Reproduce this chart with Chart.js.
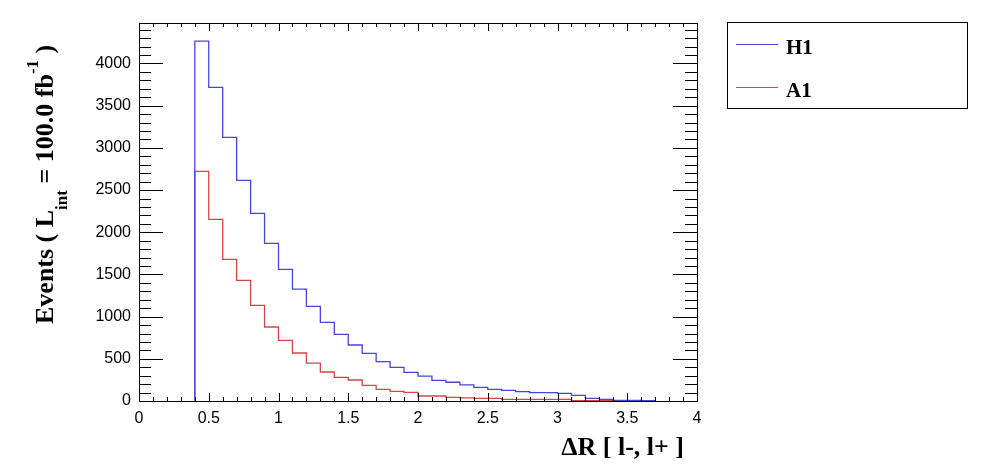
<!DOCTYPE html>
<html>
<head>
<meta charset="utf-8">
<script src="https://cdn.jsdelivr.net/npm/chart.js@4.4.1/dist/chart.umd.min.js"></script>
<style>
  html, body { margin: 0; padding: 0; background: #fff; }
  #wrap { width: 996px; height: 472px; }
</style>
</head>
<body>
<div id="wrap"><canvas id="histChart" width="996" height="472"></canvas></div>
<script>
// bin low edges (width 0.1), last entry is the upper edge of the last bin
const binEdges = [0.4, 0.5, 0.6, 0.7, 0.8, 0.9, 1.0, 1.1, 1.2, 1.3, 1.4, 1.5, 1.6, 1.7,
  1.8, 1.9, 2.0, 2.1, 2.2, 2.3, 2.4, 2.5, 2.6, 2.7, 2.8, 2.9, 3.0, 3.1, 3.2, 3.3,
  3.4, 3.5, 3.6, 3.7];

const h1Values = [4266, 3717, 3125, 2615, 2224, 1868, 1560, 1327, 1122, 932, 790, 664,
  565, 466, 399, 340, 294, 245, 222, 190, 162, 138, 126, 111, 100, 100, 91, 67, 32,
  20, 8, 6, 5];

const a1Values = [2722, 2153, 1679, 1430, 1134, 877, 719, 569, 450, 344, 281, 249,
  186, 138, 115, 103, 59, 59, 43, 36, 32, 32, 20, 20, 20, 20, 20, 5, 5, 5];

const seriesLabels = ["H1", "A1"];
const seriesColors = ["#4646dc", "#d44646"];

const xTicks = [0, 0.5, 1, 1.5, 2, 2.5, 3, 3.5, 4];
const yTicks = [0, 500, 1000, 1500, 2000, 2500, 3000, 3500, 4000];

// turn bin contents into step points (rise at first edge, drop at last edge)
function histPoints(values) {
  const pts = [{ x: binEdges[0], y: 0 }];
  values.forEach((v, i) => pts.push({ x: binEdges[i], y: v }));
  const end = binEdges[values.length];
  pts.push({ x: end, y: values[values.length - 1] });
  pts.push({ x: end, y: 0 });
  return pts;
}

const serif = "'Liberation Serif', 'Times New Roman', serif";
const sans = "'Liberation Sans', Arial, sans-serif";

// frame, inside ticks, axis titles and boxed legend (ROOT look)
const rootFrame = {
  id: "rootFrame",
  beforeDraw(chart) {
    const ctx = chart.ctx;
    ctx.save();
    ctx.fillStyle = "#fff";
    ctx.fillRect(0, 0, chart.width, chart.height);
    ctx.restore();
  },
  afterDraw(chart) {
    const ctx = chart.ctx;
    const a = chart.chartArea;
    const xs = chart.scales.x;
    const ys = chart.scales.y;
    ctx.save();
    ctx.strokeStyle = "#000";
    ctx.lineWidth = 1;
    ctx.strokeRect(a.left + 0.5, a.top + 0.5, a.right - a.left, a.bottom - a.top);

    ctx.beginPath();
    // y ticks: minor every 100, major on the labelled values
    for (let v = 0; v <= ys.max; v += 100) {
      const py = Math.round(ys.getPixelForValue(v)) + 0.5;
      const len = yTicks.includes(v) ? 24 : 12;
      ctx.moveTo(a.left, py); ctx.lineTo(a.left + len, py);
      ctx.moveTo(a.right, py); ctx.lineTo(a.right - len, py);
    }
    // x ticks: minor every 0.1, major on the labelled values
    for (let i = 0; i <= 40; i++) {
      const v = i / 10;
      const px = Math.round(xs.getPixelForValue(v)) + 0.5;
      const len = xTicks.includes(v) ? 8 : 4;
      ctx.moveTo(px, a.bottom); ctx.lineTo(px, a.bottom - len);
      ctx.moveTo(px, a.top); ctx.lineTo(px, a.top + len);
    }
    ctx.stroke();

    // x title
    ctx.fillStyle = "#000";
    ctx.font = "bold 26px " + serif;
    ctx.textAlign = "right";
    ctx.textBaseline = "alphabetic";
    ctx.fillText("\u0394R [ l-, l+ ]", 684, 455);

    // y title with sub/superscript, rotated
    const big = "bold 26px " + serif;
    const small = "bold 17px " + serif;
    const parts = [
      { t: "Events ( L", f: big, dy: 0 },
      { t: "int", f: small, dy: 14 },
      { t: " = 100.0 fb", f: big, dy: 0 },
      { t: "-1", f: small, dy: -15 },
      { t: " )", f: big, dy: 0 }
    ];
    let total = 0;
    parts.forEach((p) => { ctx.font = p.f; p.w = ctx.measureText(p.t).width; total += p.w; });
    ctx.translate(53, 324);
    ctx.rotate(-Math.PI / 2);
    ctx.textAlign = "left";
    let cx = 0;
    parts.forEach((p) => { ctx.font = p.f; ctx.fillText(p.t, cx, p.dy); cx += p.w; });
    ctx.setTransform(1, 0, 0, 1, 0, 0);
    ctx.restore();

    // legend box
    ctx.save();
    const lx = 727, ly = 22, lw = 240, lh = 86;
    ctx.strokeStyle = "#000";
    ctx.lineWidth = 1;
    ctx.strokeRect(lx + 0.5, ly + 0.5, lw, lh);
    chart.data.datasets.forEach((ds, i) => {
      const yy = 44 + i * 43;
      ctx.strokeStyle = ds.borderColor;
      ctx.lineWidth = 1.2;
      ctx.beginPath();
      ctx.moveTo(736, yy + 0.5);
      ctx.lineTo(778, yy + 0.5);
      ctx.stroke();
      ctx.fillStyle = "#000";
      ctx.font = "bold 21px " + serif;
      ctx.textAlign = "left";
      ctx.textBaseline = "alphabetic";
      ctx.fillText(ds.label, 786, yy + 10);
    });
    ctx.restore();
  }
};

const ctx = document.getElementById("histChart").getContext("2d");
new Chart(ctx, {
  type: "line",
  data: {
    datasets: [
      {
        label: seriesLabels[0],
        data: histPoints(h1Values),
        borderColor: seriesColors[0],
        borderWidth: 1.3,
        stepped: true,
        pointRadius: 0,
        fill: false
      },
      {
        label: seriesLabels[1],
        data: histPoints(a1Values),
        borderColor: seriesColors[1],
        borderWidth: 1.3,
        stepped: true,
        pointRadius: 0,
        fill: false
      }
    ]
  },
  options: {
    responsive: false,
    animation: false,
    devicePixelRatio: 1,
    layout: { padding: { top: 23, right: 299, left: 0, bottom: 0 } },
    plugins: {
      legend: { display: false },
      tooltip: { enabled: false }
    },
    scales: {
      x: {
        type: "linear",
        min: 0,
        max: 4,
        grid: { display: false, drawTicks: false },
        border: { display: false },
        afterBuildTicks: (s) => { s.ticks = xTicks.map((v) => ({ value: v })); },
        ticks: {
          padding: 8,
          color: "#000",
          font: { family: sans, size: 16 },
          maxRotation: 0,
          autoSkip: false,
          callback: (v) => String(v)
        },
        afterFit: (s) => { s.height = 71; }
      },
      y: {
        type: "linear",
        min: 0,
        max: 4480,
        grid: { display: false, drawTicks: false },
        border: { display: false },
        afterBuildTicks: (s) => { s.ticks = yTicks.map((v) => ({ value: v })); },
        ticks: {
          padding: 8,
          color: "#000",
          font: { family: sans, size: 16 },
          autoSkip: false,
          callback: (v) => String(v)
        },
        afterFit: (s) => { s.width = 139; }
      }
    }
  },
  plugins: [rootFrame]
});
</script>
</body>
</html>
